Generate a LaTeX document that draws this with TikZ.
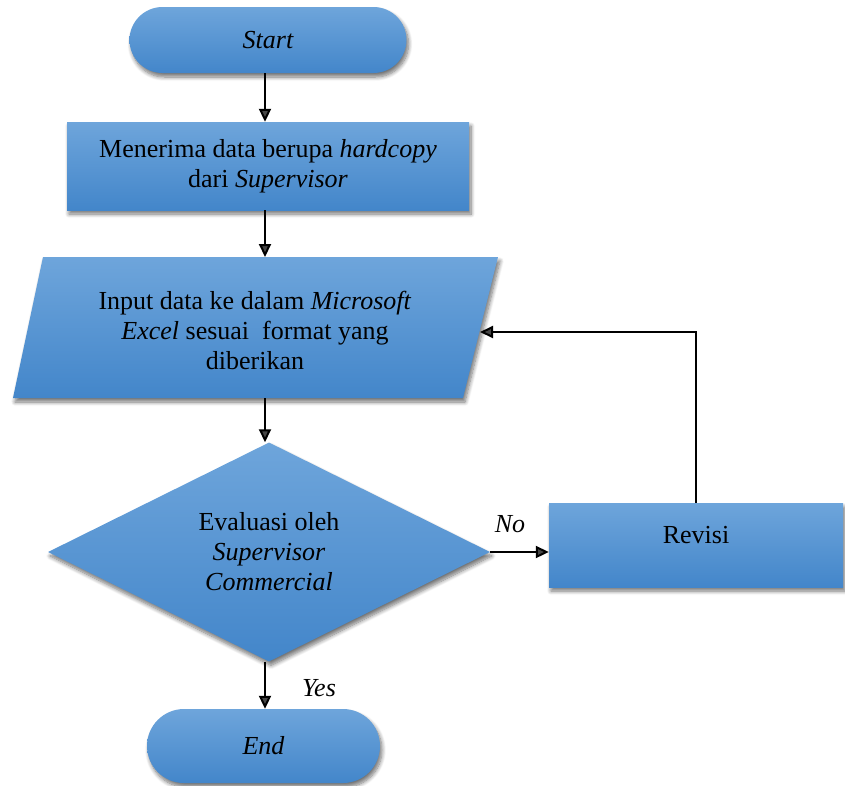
\documentclass[tikz,border=0pt]{standalone}
\usepackage{fontspec}
\setmainfont{LiberationSerif}[Extension=.ttf,UprightFont=*-Regular,ItalicFont=*-Italic,BoldFont=*-Bold,BoldItalicFont=*-BoldItalic]
\usetikzlibrary{shapes.geometric,arrows.meta,shadows.blur}
\definecolor{bT}{HTML}{6EA5DB}
\definecolor{bB}{HTML}{4386CA}
\begin{document}
\begin{tikzpicture}[x=1pt,y=-1pt,
  fillsty/.style={top color=bT,bottom color=bB,draw=none,
    blur shadow={shadow xshift=2pt,shadow yshift=-4pt,shadow blur steps=8,shadow blur radius=4pt,shadow opacity=55}},
  box/.style={fillsty,inner sep=0pt,align=center,font=\fontsize{26}{30}\selectfont},
  txt/.style={inner sep=0pt,align=center,font=\fontsize{26}{30}\selectfont},
  arr/.style={line width=2pt,-{Triangle[length=13pt,width=12pt]}}]
\useasboundingbox (0,0) rectangle (845,785);
\coordinate (ax) at (265,0);
\node[box,rounded corners=33pt,minimum width=277pt,minimum height=66pt] (start) at (268,40) {\itshape Start};
\node[box,minimum width=402pt,minimum height=88pt] (rect1) at (268,166) {Menerima data berupa \textit{hardcopy}\\dari \textit{Supervisor}};
\path[fillsty] (43,257) -- (498,257) -- (463,398) -- (13,398) -- cycle;
\coordinate (paraN) at (265,257);
\coordinate (paraS) at (265,398);
\coordinate (paraE) at (480,332);
\node[txt] (para) at (255,330) {Input data ke dalam \textit{Microsoft}\\\textit{Excel} sesuai\ \ format yang\\diberikan};
\node[box,diamond,minimum width=442pt,minimum height=211pt] (dec) at (269,552) {Evaluasi oleh\\\textit{Supervisor}\\\textit{Commercial}};
\node[box,minimum width=294pt,minimum height=84pt] (rev) at (696,545) {};
\node[txt] (revt) at (696,535) {Revisi};
\node[box,rounded corners=37pt,minimum width=233pt,minimum height=74pt] (end) at (263.5,746) {\itshape End};
\node[txt] (no) at (510,524) {\itshape No};
\node[txt] (yes) at (319,688) {\itshape Yes};
\draw[arr] (start.south -| ax) -- (rect1.north -| ax);
\draw[arr] (rect1.south -| ax) -- (paraN);
\draw[arr] (paraS) -- (dec.north -| ax);
\draw[arr] (dec.south -| ax) -- (end.north -| ax);
\draw[arr] (dec.east) -- (dec.east -| rev.west);
\draw[arr] (rev.north) |- (paraE);
\end{tikzpicture}
\end{document}
